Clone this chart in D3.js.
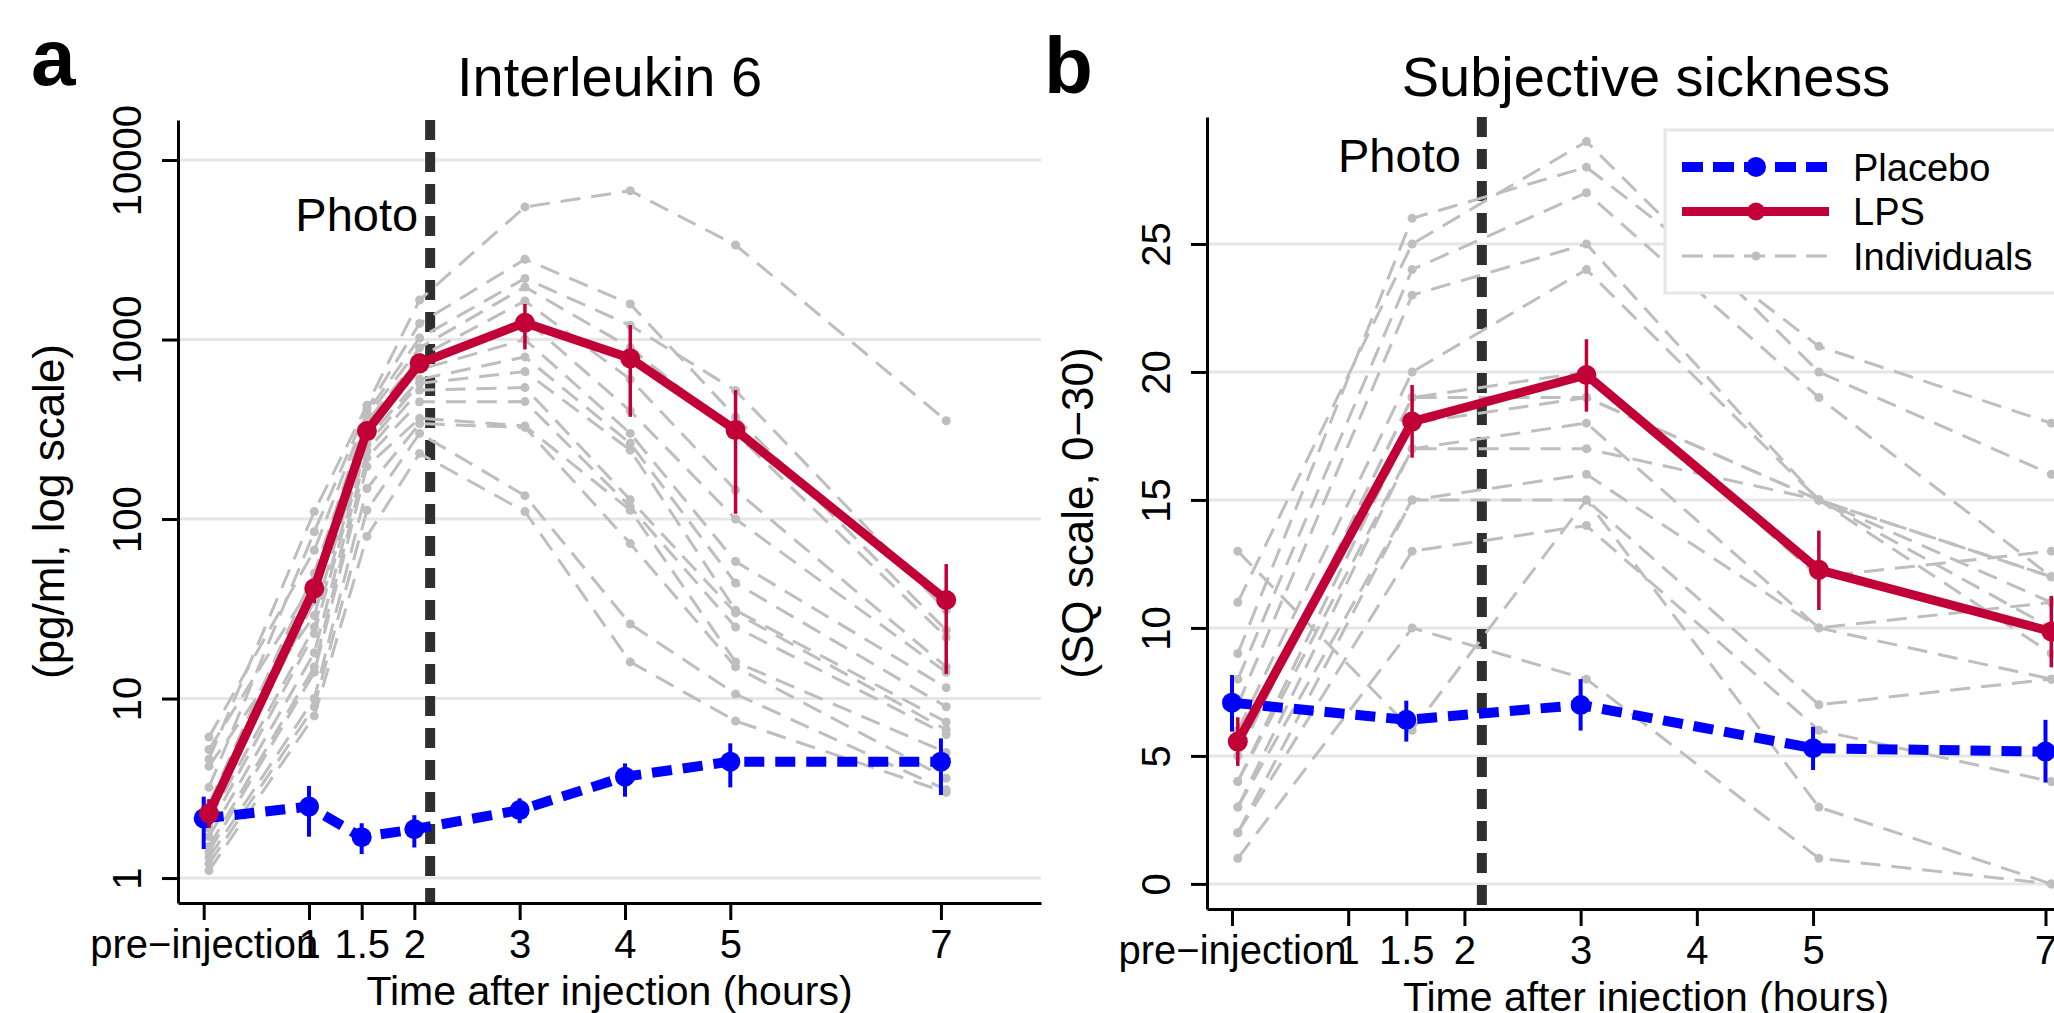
<html>
  <head>
    <script src="https://d3js.org/d3.v7.min.js"></script>
    <style>
      body { margin: 0; background: white; }
      text { font-family: "Liberation Sans", Arial, sans-serif; fill: black; }
    </style>
  </head>

  <body>
    <svg id="fig" width="2054" height="1013"></svg>

    <script>
      // shared x axis (hours after injection)
      const timeTicks = [0, 1, 1.5, 2, 3, 4, 5, 7];
      const timeLabels = ["pre\u2212injection", "1", "1.5", "2", "3", "4", "5", "7"];
      const photoTime = 2.15;
      const lpsShift = 0.05; // LPS group drawn a little to the right

      // panel a: Interleukin 6 (pg/ml)
      const il6Times = [0, 1, 1.5, 2, 3, 4, 5, 7];
      const il6Placebo = [2.15, 2.5, 1.69, 1.87, 2.39, 3.67, 4.45, 4.45];
      const il6PlaceboLo = [1.45, 1.7, 1.36, 1.48, 2.02, 2.84, 3.2, 2.9];
      const il6PlaceboHi = [2.84, 3.26, 2.02, 2.24, 2.78, 4.35, 5.63, 6.0];
      const il6Lps = [2.29, 41.1, 309, 737, 1241, 786, 313, 35.4];
      const il6LpsLo = [1.9, 34, 275, 659, 881, 371, 107, 13.7];
      const il6LpsHi = [2.75, 45.7, 343, 820, 1577, 1205, 523, 56.1];
      const il6Individuals = [
        [4.6, 110, 430, 1660, 5480, 6740, 3360, 353],
        [3.2, 85, 410, 1230, 2800, 1578, 371, 24],
        [6.1, 67, 390, 1020, 2190, 1200, 520, 31],
        [2.6, 50, 370, 900, 1960, 900, 300, 22],
        [5.2, 45, 350, 800, 1640, 600, 145, 15],
        [2.3, 35, 330, 740, 1300, 400, 100, 14],
        [4.2, 29, 300, 680, 1000, 300, 58, 11.5],
        [2.1, 25, 280, 600, 800, 264, 44, 9],
        [1.9, 23, 260, 570, 663, 242, 31, 7.4],
        [1.7, 18, 240, 523, 540, 128, 30, 6.7],
        [1.5, 15, 220, 450, 451, 117, 25, 6.3],
        [1.4, 14, 196, 364, 330, 112, 16, 5],
        [1.3, 10, 148, 340, 324, 73, 15, 3.6],
        [1.2, 9, 112, 300, 135, 26, 10.6, 3.1],
        [1.1, 8, 80, 232, 110, 16, 7.5, 3.0]
      ];
      const il6Ticks = [1, 10, 100, 1000, 10000];

      // panel b: subjective sickness (SQ scale 0-30)
      const sqTimes = [0, 1.5, 3, 5, 7];
      const sqPlacebo = [7.08, 6.41, 6.99, 5.3, 5.17];
      const sqPlaceboLo = [5.95, 5.56, 5.99, 4.45, 3.96];
      const sqPlaceboHi = [8.16, 7.16, 8.0, 6.14, 6.41];
      const sqLps = [5.56, 18.06, 19.88, 12.27, 9.86];
      const sqLpsLo = [4.61, 16.65, 18.45, 10.7, 8.46];
      const sqLpsHi = [6.51, 19.49, 21.28, 13.8, 11.25];
      const sqIndividuals = [
        [9, 26, 28, 21, 18],
        [11, 25, 29, 20, 16],
        [8, 24, 27, 19, 12],
        [7, 23, 25, 15, 11],
        [6, 20, 24, 15, 12],
        [5, 19, 20, 12, 13],
        [5, 19, 19, 15, 12],
        [4, 18, 19, 15, 10],
        [4, 17, 18, 10, 11],
        [3, 17, 17, 15, 9],
        [3, 15, 16, 10, 8],
        [2, 15, 15, 7, 8],
        [2, 13, 14, 6, 4],
        [1, 10, 8, 1, 0],
        [13, 6, 15, 3, 0]
      ];
      const sqTicks = [0, 5, 10, 15, 20, 25];

      const legendLabels = ["Placebo", "LPS", "Individuals"];

      const blue = "#0000ff";
      const red = "#c10037";
      const grey = "#bebebe";

      const svg = d3.select("#fig");

      function drawPanel(p) {
        const g = svg.append("g");
        const [xl, xr] = p.x.range();
        const [yb, yt] = p.y.range();

        // grid lines
        g.selectAll("line.grid")
          .data(p.yTicks)
          .join("line")
          .attr("class", "grid")
          .attr("x1", xl)
          .attr("x2", xr)
          .attr("y1", (d) => p.y(d))
          .attr("y2", (d) => p.y(d))
          .style("stroke", "#e6e6e6")
          .style("stroke-width", 3);

        // photo marker
        g.append("line")
          .attr("x1", p.x(photoTime))
          .attr("x2", p.x(photoTime))
          .attr("y1", yt)
          .attr("y2", yb)
          .style("stroke", "#2f2f2f")
          .style("stroke-width", 10)
          .style("stroke-dasharray", "20,12");

        g.append("text")
          .attr("x", p.x(photoTime) - p.photoGap)
          .attr("y", p.y(p.photoY))
          .attr("text-anchor", "end")
          .style("font-size", "47px")
          .text("Photo");

        const line = d3
          .line()
          .x((d, i) => p.x(p.times[i] + lpsShift))
          .y((d) => p.y(d));

        // individuals
        g.selectAll("path.indiv")
          .data(p.individuals)
          .join("path")
          .attr("class", "indiv")
          .attr("d", line)
          .style("fill", "none")
          .style("stroke", grey)
          .style("stroke-width", 3)
          .style("stroke-dasharray", "20,11");

        const dots = p.individuals.flatMap((row) =>
          row.map((v, i) => [p.times[i] + lpsShift, v])
        );
        g.selectAll("circle.indiv")
          .data(dots)
          .join("circle")
          .attr("class", "indiv")
          .attr("cx", (d) => p.x(d[0]))
          .attr("cy", (d) => p.y(d[1]))
          .attr("r", 4.5)
          .style("fill", grey);

        // group means with error bars
        const groups = [
          { vals: p.placebo, lo: p.placeboLo, hi: p.placeboHi, shift: 0, color: blue, w: 10, dash: "20,11", err: 4, r: 10 },
          { vals: p.lps, lo: p.lpsLo, hi: p.lpsHi, shift: lpsShift, color: red, w: 9, dash: null, err: 3.5, r: 10 }
        ];

        groups.forEach((s) => {
          const gx = (i) => p.x(p.times[i] + s.shift);

          g.append("g")
            .selectAll("line")
            .data(s.vals)
            .join("line")
            .attr("x1", (d, i) => gx(i))
            .attr("x2", (d, i) => gx(i))
            .attr("y1", (d, i) => p.y(s.lo[i]))
            .attr("y2", (d, i) => p.y(s.hi[i]))
            .style("stroke", s.color)
            .style("stroke-width", s.err);

          g.append("path")
            .datum(s.vals)
            .attr("d", d3.line().x((d, i) => gx(i)).y((d) => p.y(d)))
            .style("fill", "none")
            .style("stroke", s.color)
            .style("stroke-width", s.w)
            .style("stroke-linejoin", "round")
            .style("stroke-dasharray", s.dash);

          g.append("g")
            .selectAll("circle")
            .data(s.vals)
            .join("circle")
            .attr("cx", (d, i) => gx(i))
            .attr("cy", (d) => p.y(d))
            .attr("r", s.r)
            .style("fill", s.color);
        });

        // axes
        const yAxis = g
          .append("g")
          .attr("transform", `translate(${xl},0)`)
          .call(
            d3.axisLeft(p.y).tickValues(p.yTicks).tickFormat(d3.format("d")).tickSize(16).tickSizeOuter(0)
          );
        yAxis.selectAll("text")
          .attr("x", null)
          .attr("dy", null)
          .attr("text-anchor", "middle")
          .attr("transform", "translate(-37,0) rotate(-90)")
          .style("font-size", "40px");

        const xAxis = g
          .append("g")
          .attr("transform", `translate(0,${yb})`)
          .call(
            d3.axisBottom(p.x).tickValues(timeTicks).tickFormat((d, i) => timeLabels[i]).tickSize(17).tickSizeOuter(0)
          );
        xAxis.selectAll("text")
          .attr("y", 55)
          .attr("dy", null)
          .style("font-size", "40px");

        g.selectAll(".domain, .tick line")
          .style("stroke", "black")
          .style("stroke-width", 3);

        // titles
        const xc = (xl + xr) / 2;
        g.append("text")
          .attr("x", xc)
          .attr("y", 96)
          .attr("text-anchor", "middle")
          .style("font-size", "56px")
          .text(p.title);

        g.append("text")
          .attr("x", xc)
          .attr("y", yb + 102)
          .attr("text-anchor", "middle")
          .style("font-size", "41px")
          .text("Time after injection (hours)");

        g.append("text")
          .attr("transform", `translate(${xl - 114},${(yb + yt) / 2}) rotate(-90)`)
          .attr("text-anchor", "middle")
          .style("font-size", "44px")
          .text(p.yLabel);

        g.append("text")
          .attr("x", p.letterX)
          .attr("y", p.letterY)
          .style("font-size", "80px")
          .style("font-weight", "bold")
          .text(p.letter);
      }

      const xA = d3.scaleLinear().domain([-0.244, 7.95]).range([178, 1041]);
      const yA = d3.scaleLog().domain([Math.pow(10, -0.139), Math.pow(10, 4.223)]).range([903, 120]);

      drawPanel({
        x: xA, y: yA, yTicks: il6Ticks,
        times: il6Times,
        placebo: il6Placebo, placeboLo: il6PlaceboLo, placeboHi: il6PlaceboHi,
        lps: il6Lps, lpsLo: il6LpsLo, lpsHi: il6LpsHi,
        individuals: il6Individuals,
        title: "Interleukin 6",
        yLabel: "(pg/ml, log scale)",
        letter: "a", letterX: 31, letterY: 85,
        photoY: 4000, photoGap: 12
      });

      const xB = d3.scaleLinear().domain([-0.215, 7.34]).range([1207, 2085]);
      const yB = d3.scaleLinear().domain([-0.98, 29.96]).range([909, 117]);

      drawPanel({
        x: xB, y: yB, yTicks: sqTicks,
        times: sqTimes,
        placebo: sqPlacebo, placeboLo: sqPlaceboLo, placeboHi: sqPlaceboHi,
        lps: sqLps, lpsLo: sqLpsLo, lpsHi: sqLpsHi,
        individuals: sqIndividuals,
        title: "Subjective sickness",
        yLabel: "(SQ scale, 0\u221230)",
        letter: "b", letterX: 1044, letterY: 93,
        photoY: 27.8, photoGap: 21
      });

      // legend (panel b)
      const legend = svg.append("g");
      legend.append("rect")
        .attr("x", 1665)
        .attr("y", 130)
        .attr("width", 500)
        .attr("height", 163)
        .style("fill", "white")
        .style("stroke", "#e6e6e6")
        .style("stroke-width", 3);

      const legendStyle = [
        { color: blue, w: 10, dash: "21,10", r: 10 },
        { color: red, w: 9, dash: null, r: 9 },
        { color: grey, w: 3, dash: "21,10", r: 4.5 }
      ];
      const rowY = (i) => 167 + i * 44.5;

      legend.selectAll("line")
        .data(legendLabels)
        .join("line")
        .attr("x1", 1682)
        .attr("x2", 1829)
        .attr("y1", (d, i) => rowY(i))
        .attr("y2", (d, i) => rowY(i))
        .style("stroke", (d, i) => legendStyle[i].color)
        .style("stroke-width", (d, i) => legendStyle[i].w)
        .style("stroke-dasharray", (d, i) => legendStyle[i].dash);

      legend.selectAll("circle")
        .data(legendLabels)
        .join("circle")
        .attr("cx", 1756)
        .attr("cy", (d, i) => rowY(i))
        .attr("r", (d, i) => legendStyle[i].r)
        .style("fill", (d, i) => legendStyle[i].color);

      legend.selectAll("text")
        .data(legendLabels)
        .join("text")
        .attr("x", 1853)
        .attr("y", (d, i) => rowY(i) + 13.5)
        .style("font-size", "38px")
        .text((d) => d);
    </script>
  </body>
</html>
